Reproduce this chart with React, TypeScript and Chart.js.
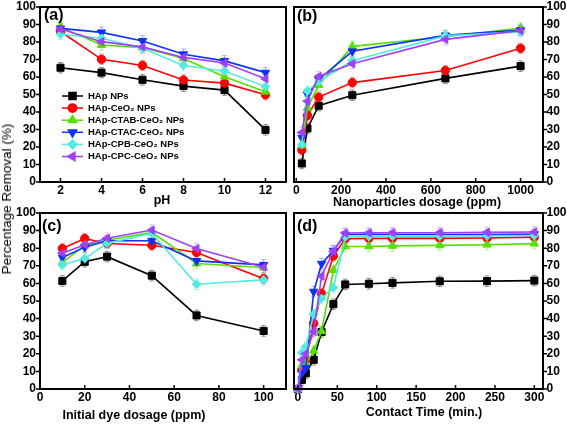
import React, { useEffect, useRef } from 'react';
import { Chart, registerables } from 'chart.js';
import { drawPoint } from 'chart.js/helpers';

Chart.register(...registerables);

const FONT = '"Liberation Sans", Arial, Helvetica, sans-serif';
Chart.defaults.font.family = FONT;
Chart.defaults.color = '#000';

// ---------- data ----------
const SERIES = ['HAp NPs', 'HAp-CeO₂ NPs', 'HAp-CTAB-CeO₂ NPs', 'HAp-CTAC-CeO₂ NPs', 'HAp-CPB-CeO₂ NPs', 'HAp-CPC-CeO₂ NPs'];

// (a) pH
const PH = [2, 4, 6, 8, 10, 12];
const PH_TICKS = [2, 4, 6, 8, 10, 12];
const A_HAP = [65.3, 62.5, 58.4, 54.8, 52.5, 29.8];
const A_CEO2 = [86.0, 70.1, 66.6, 58.3, 56.5, 49.8];
const A_CTAB = [88.5, 78.3, 76.8, 70.6, 60.2, 51.6];
const A_CTAC = [87.8, 85.5, 80.6, 73.0, 69.2, 62.5];
const A_CPB = [84.4, 82.1, 76.4, 66.6, 63.4, 54.5];
const A_CPC = [87.4, 80.2, 77.2, 71.2, 68.0, 59.0];

// (b) nanoparticles dosage
const DOSE = [25, 50, 100, 250, 665, 1000];
const DOSE_TICKS = [0, 200, 400, 600, 800, 1000];
const B_HAP = [10.6, 30.6, 43.6, 49.6, 59.2, 66.2];
const B_CEO2 = [18.3, 38.0, 48.5, 56.8, 63.7, 76.4];
const B_CTAB = [21.0, 42.4, 55.4, 77.5, 83.0, 88.0];
const B_CTAC = [25.3, 50.0, 58.6, 74.7, 83.8, 86.8];
const B_CPB = [21.4, 52.0, 57.4, 69.3, 83.5, 85.8];
const B_CPC = [28.3, 46.2, 60.3, 67.6, 81.5, 86.5];

// (c) initial dye dosage
const DYE = [10, 20, 30, 50, 70, 100];
const DYE_TICKS = [0, 20, 40, 60, 80, 100];
const C_HAP = [61.4, 72.3, 75.2, 64.4, 41.8, 33.0];
const C_CEO2 = [79.8, 85.5, 82.7, 81.7, 77.6, 62.7];
const C_CTAB = [72.0, 81.5, 84.5, 89.0, 71.3, 69.0];
const C_CTAC = [74.7, 80.6, 84.2, 84.2, 72.8, 70.5];
const C_CPB = [70.6, 74.1, 82.8, 88.4, 59.5, 62.0];
const C_CPC = [77.2, 82.0, 85.7, 90.3, 79.8, 69.2];

// (d) contact time
const TIME = [0, 5, 10, 20, 30, 45, 60, 90, 120, 180, 240, 300];
const TIME_TICKS = [0, 50, 100, 150, 200, 250, 300];
const D_HAP = [0, 5.2, 8.9, 16.6, 32.4, 48.2, 59.4, 59.8, 60.3, 61.2, 61.3, 61.6];
const D_CEO2 = [0, 10.8, 16.0, 37.3, 54.2, 75.6, 85.4, 85.6, 85.6, 85.6, 85.8, 86.3];
const D_CTAB = [0, 13.6, 14.5, 21.8, 32.8, 67.5, 81.0, 81.0, 81.3, 81.6, 82.0, 82.6];
const D_CTAC = [0, 9.0, 12.0, 55.3, 71.2, 78.6, 87.8, 87.8, 87.8, 87.8, 87.8, 88.0];
const D_CPB = [0, 20.5, 24.0, 42.5, 51.4, 57.6, 86.4, 86.6, 86.8, 86.8, 87.0, 87.2];
const D_CPC = [0, 16.6, 20.0, 32.6, 64.2, 78.2, 88.6, 88.7, 88.8, 88.8, 89.0, 89.2];

const Y_TICKS = [0, 10, 20, 30, 40, 50, 60, 70, 80, 90, 100];
const ERROR_BAR = 3;

// ---------- styles ----------
const COLORS = ['#000000', '#ff0000', '#55e000', '#1030ff', '#50ece0', '#a040f8'];
const ERR_COLORS = ['rgba(0,0,0,0.4)', 'rgba(255,0,0,0.35)', 'rgba(85,224,0,0.4)', 'rgba(16,48,255,0.35)', 'rgba(80,236,224,0.45)', 'rgba(160,64,248,0.35)'];
const STYLES = ['rect', 'circle', 'triangle', 'triangle', 'rectRot', 'triangle'];
const ROTS = [0, 0, 0, 180, 0, -90];
const RADII = [5, 4.2, 4.8, 4.8, 4.4, 4.8];

const framePlugin = {
  id: 'frame',
  beforeDatasetsDraw(chart: any, _a: any, o: any) {
    const ctx = chart.ctx;
    const xs = chart.scales.x;
    const ys = chart.scales.y;
    const area = chart.chartArea;
    ctx.save();
    ctx.beginPath();
    ctx.rect(area.left, area.top, area.right - area.left, area.bottom - area.top);
    ctx.clip();
    chart.data.datasets.forEach((ds: any, i: number) => {
      ctx.strokeStyle = ERR_COLORS[i];
      ctx.lineWidth = 1;
      ds.data.forEach((p: any) => {
        if (p.y === 0) return;
        const x = xs.getPixelForValue(p.x);
        const y1 = ys.getPixelForValue(p.y - o.err);
        const y2 = ys.getPixelForValue(p.y + o.err);
        ctx.beginPath();
        ctx.moveTo(x, y1); ctx.lineTo(x, y2);
        ctx.moveTo(x - 2.5, y1); ctx.lineTo(x + 2.5, y1);
        ctx.moveTo(x - 2.5, y2); ctx.lineTo(x + 2.5, y2);
        ctx.stroke();
      });
    });
    ctx.restore();
  },
  afterDraw(chart: any, _a: any, o: any) {
    const ctx = chart.ctx;
    const { left, right, top, bottom } = chart.chartArea;
    const xs = chart.scales.x;
    const ys = chart.scales.y;
    ctx.save();
    // frame
    ctx.strokeStyle = '#000';
    ctx.lineWidth = 2;
    ctx.strokeRect(left, top, right - left, bottom - top);
    // ticks
    ctx.lineWidth = 1.5;
    ctx.beginPath();
    ys.ticks.forEach((t: any) => {
      const py = ys.getPixelForValue(t.value);
      if (o.ySide === 'left') { ctx.moveTo(left - 4, py); ctx.lineTo(left, py); }
      else { ctx.moveTo(right, py); ctx.lineTo(right + 4, py); }
    });
    xs.ticks.forEach((t: any) => {
      const px = xs.getPixelForValue(t.value);
      ctx.moveTo(px, bottom); ctx.lineTo(px, bottom - 4);
    });
    ctx.stroke();
    // panel label
    ctx.fillStyle = '#000';
    ctx.font = `bold 16px ${FONT}`;
    ctx.textAlign = 'left';
    ctx.textBaseline = 'middle';
    ctx.fillText(o.label, left + o.labelDx, top + o.labelDy);
    // x title
    ctx.font = `bold 12.5px ${FONT}`;
    ctx.textAlign = 'center';
    ctx.fillText(o.title, o.titleX, o.titleY);
    // legend
    if (o.legend) {
      chart.data.datasets.forEach((ds: any, i: number) => {
        const y = o.legendY + i * o.legendGap;
        ctx.strokeStyle = ds.borderColor;
        ctx.fillStyle = ds.backgroundColor;
        ctx.lineWidth = 1.5;
        ctx.beginPath();
        ctx.moveTo(o.legendX0, y); ctx.lineTo(o.legendX1, y);
        ctx.stroke();
        drawPoint(ctx, { pointStyle: ds.pointStyle, rotation: ds.pointRotation, radius: ds.pointRadius, borderWidth: 1 } as any, (o.legendX0 + o.legendX1) / 2, y);
        ctx.fillStyle = '#000';
        ctx.font = `bold 9.5px ${FONT}`;
        ctx.textAlign = 'left';
        ctx.textBaseline = 'middle';
        ctx.fillText(ds.label, o.legendText, y);
      });
    }
    ctx.restore();
  },
};

type PanelCfg = {
  left: number; top: number; width: number; height: number;
  pad: { left: number; right: number; top: number; bottom: number };
  xs: number[]; series: number[][]; xMin: number; xMax: number; xTicks: number[];
  ySide: 'left' | 'right'; yWidth: number; xHeight: number;
  frame: any;
};

const PANELS: PanelCfg[] = [
  {
    left: 0, top: 0, width: 292, height: 212,
    pad: { left: 0, right: 2, top: 7, bottom: 0 },
    xs: PH, series: [A_HAP, A_CEO2, A_CTAB, A_CTAC, A_CPB, A_CPC], xMin: 1, xMax: 13, xTicks: PH_TICKS,
    ySide: 'left', yWidth: 40, xHeight: 30,
    frame: { label: '(a)', labelDx: 4, labelDy: 8.5, title: 'pH', titleX: 162, titleY: 200.5, legend: true,
      legendX0: 62, legendX1: 83, legendText: 88, legendY: 96, legendGap: 12.1 },
  },
  {
    left: 288, top: 0, width: 279, height: 212,
    pad: { left: 2, right: 0, top: 7, bottom: 0 },
    xs: DOSE, series: [B_HAP, B_CEO2, B_CTAB, B_CTAC, B_CPB, B_CPC], xMin: -10, xMax: 1100, xTicks: DOSE_TICKS,
    ySide: 'right', yWidth: 24, xHeight: 30,
    frame: { label: '(b)', labelDx: 3, labelDy: 10, title: 'Nanoparticles dosage (ppm)', titleX: 129, titleY: 203, legend: false },
  },
  {
    left: 0, top: 205, width: 292, height: 220,
    pad: { left: 0, right: 2, top: 8, bottom: 0 },
    xs: DYE, series: [C_HAP, C_CEO2, C_CTAB, C_CTAC, C_CPB, C_CPC], xMin: 0, xMax: 110, xTicks: DYE_TICKS,
    ySide: 'left', yWidth: 40, xHeight: 36,
    frame: { label: '(c)', labelDx: 2, labelDy: 14, title: 'Initial dye dosage (ppm)', titleX: 134, titleY: 211, legend: false },
  },
  {
    left: 288, top: 205, width: 279, height: 220,
    pad: { left: 2, right: 0, top: 8, bottom: 0 },
    xs: TIME, series: [D_HAP, D_CEO2, D_CTAB, D_CTAC, D_CPB, D_CPC], xMin: -5, xMax: 311, xTicks: TIME_TICKS,
    ySide: 'right', yWidth: 24, xHeight: 36,
    frame: { label: '(d)', labelDx: 3, labelDy: 13.5, title: 'Contact Time (min.)', titleX: 136, titleY: 208, legend: false },
  },
];

function Panel({ cfg }: { cfg: PanelCfg }) {
  const ref = useRef<HTMLCanvasElement>(null);
  useEffect(() => {
    const tickFont = { family: FONT, size: 12, weight: 'bold' as const };
    const chart = new Chart(ref.current as HTMLCanvasElement, {
      type: 'line',
      data: {
        datasets: cfg.series.map((s, i) => ({
          label: SERIES[i],
          data: cfg.xs.map((x, j) => ({ x, y: s[j] })),
          borderColor: COLORS[i],
          backgroundColor: COLORS[i],
          pointBackgroundColor: COLORS[i],
          pointBorderColor: COLORS[i],
          pointStyle: STYLES[i] as any,
          pointRotation: ROTS[i],
          pointRadius: RADII[i],
          pointBorderWidth: 1,
          borderWidth: 1.6,
          tension: 0,
          clip: false as any,
          order: SERIES.length - i,
        })),
      },
      options: {
        responsive: false,
        animation: false,
        events: [],
        layout: { padding: cfg.pad },
        plugins: {
          legend: { display: false },
          tooltip: { enabled: false },
          frame: { ...cfg.frame, ySide: cfg.ySide, err: ERROR_BAR },
        } as any,
        scales: {
          x: {
            type: 'linear',
            min: cfg.xMin,
            max: cfg.xMax,
            afterBuildTicks: (s: any) => { s.ticks = cfg.xTicks.map((v) => ({ value: v })); },
            afterFit: (s: any) => { s.height = cfg.xHeight; s.paddingLeft = 0; s.paddingRight = 0; },
            grid: { display: false, drawTicks: false },
            border: { display: false },
            ticks: { font: tickFont, color: '#000', padding: 1, maxRotation: 0, autoSkip: false, callback: (v: any) => String(v) },
          },
          y: {
            type: 'linear',
            position: cfg.ySide,
            min: 0,
            max: 100,
            afterBuildTicks: (s: any) => { s.ticks = Y_TICKS.map((v) => ({ value: v })); },
            afterFit: (s: any) => { s.width = cfg.yWidth; s.paddingTop = 0; s.paddingBottom = 0; },
            grid: { display: false, drawTicks: false },
            border: { display: false },
            ticks: { font: tickFont, color: '#000', padding: cfg.ySide === 'left' ? 4 : 3.5, autoSkip: false, callback: (v: any) => String(v) },
          },
        },
      } as any,
      plugins: [framePlugin as any],
    });
    return () => chart.destroy();
  }, [cfg]);
  return (
    <canvas
      ref={ref}
      width={cfg.width}
      height={cfg.height}
      style={{ position: 'absolute', left: cfg.left, top: cfg.top, width: cfg.width, height: cfg.height, display: 'block' }}
    />
  );
}

export default function App() {
  return (
    <div style={{ position: 'fixed', left: 0, top: 0, width: 567, height: 425, background: '#fff', overflow: 'hidden' }}>
      {PANELS.map((p, i) => (
        <Panel key={i} cfg={p} />
      ))}
      <div
        style={{
          position: 'absolute', left: 7, top: 199,
          transform: 'translate(-50%, -50%) rotate(-90deg)',
          whiteSpace: 'nowrap', font: `13.5px ${FONT}`, color: '#000', lineHeight: '14px',
        }}
      >
        Percentage Removal (%)
      </div>
    </div>
  );
}
